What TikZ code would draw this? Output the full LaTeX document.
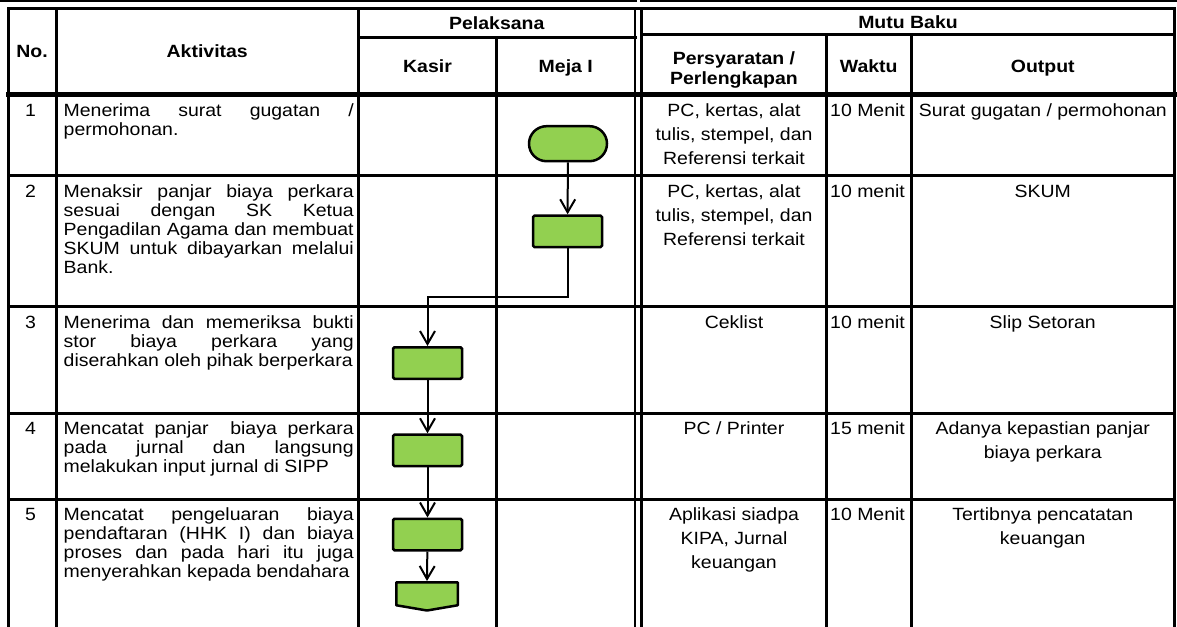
\documentclass[tikz,border=0pt]{standalone}
\usepackage{fontspec}
\setmainfont{Liberation Sans}[FakeStretch=1.1]
\usetikzlibrary{arrows.meta,shapes.misc,calc}
\definecolor{flowgreen}{HTML}{92D050}
\newlength{\aktw}\setlength{\aktw}{290pt}
\newcommand{\JL}[1]{\makebox[\aktw][s]{#1}}
\begin{document}
\begin{tikzpicture}[x=1pt,y=-1pt,
  gridline/.style={line width=3pt, line cap=rect},
  thickline/.style={line width=4.5pt, line cap=rect},
  dblline/.style={line width=2.5pt, line cap=rect},
  shapebase/.style={draw, line width=2.5pt, fill=flowgreen, inner sep=0pt},
  proc/.style={shapebase, rectangle, rounded corners=1.5pt, minimum width=69pt, minimum height=31.5pt},
  term/.style={shapebase, rounded rectangle, minimum width=78pt, minimum height=35pt},
  conn/.style={line width=2pt, -{Straight Barb[length=13pt,width=15pt]}},
  akt/.style={anchor=base west, align=left, inner sep=0pt, font=\fontsize{17.7pt}{19pt}\selectfont},
  ctr/.style={anchor=base, align=center, inner sep=0pt, font=\fontsize{17.7pt}{24pt}\selectfont},
  lft/.style={anchor=base west, inner sep=0pt, font=\fontsize{17.7pt}{19pt}\selectfont},
  num/.style={anchor=base, inner sep=0pt, font=\fontsize{17.7pt}{19pt}\selectfont},
  hdr/.style={anchor=base, align=center, inner sep=0pt, font=\fontsize{17.7pt}{20pt}\selectfont\bfseries}]
\useasboundingbox (0,0) rectangle (1177,626);

% fragments of the previous table border
\draw[line width=2.5pt] (0,1) -- (636.5,1);
\draw[line width=2.5pt] (640,1) -- (1177,1);

% vertical rules
\foreach \x in {8.5,56,358.5,1174.5} \draw[gridline] (\x,9) -- (\x,630);
\draw[gridline] (496.5,37.5) -- (496.5,630);
\draw[gridline] (826.5,35) -- (826.5,630);
\draw[gridline] (911,35) -- (911,630);
\draw[dblline] (635,9) -- (635,630);
\draw[dblline] (641.5,9) -- (641.5,630);

% horizontal rules
\draw[gridline] (8.5,9) -- (1174.5,9);
\draw[gridline] (358.5,37.5) -- (635,37.5);
\draw[gridline] (641.5,35) -- (1174.5,35);
\draw[thickline] (8.5,94.5) -- (1174.5,94.5);
\foreach \y in {175.5,306.5,413.5,499} \draw[gridline] (8.5,\y) -- (1174.5,\y);

% headers (base anchor = baseline of the last line)
\node[hdr] (hNo) at (32,57.5) {No.};
\node[hdr] (hAkt) at (207.25,57.5) {Aktivitas};
\node[hdr] (hPel) at (496.75,29.5) {Pelaksana};
\node[hdr] (hKas) at (427.5,72) {Kasir};
\node[hdr] (hMeja) at (565.75,72) {Meja I};
\node[hdr] (hMutu) at (908,29) {Mutu Baku};
\node[hdr] (hPer) at (734,84.5) {Persyaratan /\\Perlengkapan};
\node[hdr] (hWak) at (868.75,73) {Waktu};
\node[hdr] (hOut) at (1042.75,73) {Output};

% row 1 (first baseline 116.5)
\node[num] (n1) at (30.5,116.5) {1};
\node[akt] (a1) at (63.5,135.5) {\JL{Menerima surat gugatan /}\\permohonan.};
\node[ctr] (q1) at (734,164.5) {PC, kertas, alat\\tulis, stempel, dan\\Referensi terkait};
\node[lft] (w1) at (830,116.5) {10 Menit};
\node[ctr] (o1) at (1042.75,116.5) {Surat gugatan / permohonan};

% row 2 (first baseline 197.5)
\node[num] (n2) at (30.5,197.5) {2};
\node[akt] (a2) at (63.5,273.5) {\JL{Menaksir panjar biaya perkara}\\\JL{sesuai dengan SK Ketua}\\\JL{Pengadilan Agama dan membuat}\\\JL{SKUM untuk dibayarkan melalui}\\Bank.};
\node[ctr] (q2) at (734,245.5) {PC, kertas, alat\\tulis, stempel, dan\\Referensi terkait};
\node[lft] (w2) at (830,197.5) {10 menit};
\node[ctr] (o2) at (1042.75,197.5) {SKUM};

% row 3 (first baseline 328)
\node[num] (n3) at (30.5,328) {3};
\node[akt] (a3) at (63.5,366) {\JL{Menerima dan memeriksa bukti}\\\JL{stor biaya perkara yang}\\diserahkan oleh pihak berperkara};
\node[ctr] (q3) at (734,328) {Ceklist};
\node[lft] (w3) at (830,328) {10 menit};
\node[ctr] (o3) at (1042.75,328) {Slip Setoran};

% row 4 (first baseline 434.5)
\node[num] (n4) at (30.5,434.5) {4};
\node[akt] (a4) at (63.5,472.5) {\JL{Mencatat panjar\ \ biaya perkara}\\\JL{pada jurnal dan langsung}\\melakukan input jurnal di SIPP};
\node[ctr] (q4) at (734,434.5) {PC / Printer};
\node[lft] (w4) at (830,434.5) {15 menit};
\node[ctr] (o4) at (1042.75,458.5) {Adanya kepastian panjar\\biaya perkara};

% row 5 (first baseline 520)
\node[num] (n5) at (30.5,520) {5};
\node[akt] (a5) at (63.5,577) {\JL{Mencatat pengeluaran biaya}\\\JL{pendaftaran (HHK I) dan biaya}\\\JL{proses dan pada hari itu juga}\\menyerahkan kepada bendahara};
\node[ctr] (q5) at (734,568) {Aplikasi siadpa\\KIPA, Jurnal\\keuangan};
\node[lft] (w5) at (830,520) {10 Menit};
\node[ctr] (o5) at (1042.75,544) {Tertibnya pencatatan\\keuangan};

% flow shapes
\node[term] (s1) at (568,143.7) {};
\node[proc] (p2) at (567.5,231.3) {};
\node[proc] (p3) at (427.5,363) {};
\node[proc] (p4) at (427.5,450.3) {};
\node[proc] (p5) at (427.5,534.5) {};
\node[inner sep=0pt, outer sep=0pt, minimum width=61.5pt, minimum height=23pt] (o6) at (427,593.75) {};
\draw[line width=2.5pt, fill=flowgreen, line join=round]
  (o6.north west) -- (o6.north east) -- (o6.south east)
  -- ($(o6.south)+(0,5.25)$) -- (o6.south west) -- cycle;

% connectors
\coordinate (j23) at (0,296.7);
\draw[conn] (s1) -- (p2);
\draw[conn] (p2.south) -- (p2.south |- j23) -| (p3.north);
\draw[conn] (p3) -- (p4);
\draw[conn] (p4) -- (p5);
\draw[conn, shorten >=1.25pt] (p5) -- (o6.north);
\end{tikzpicture}
\end{document}
